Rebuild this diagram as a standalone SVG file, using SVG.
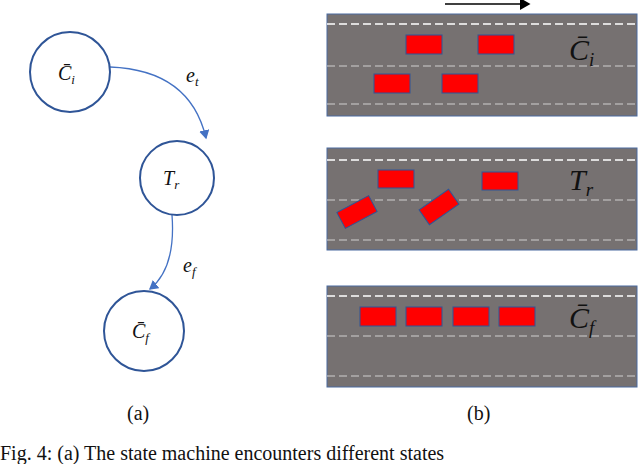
<svg xmlns="http://www.w3.org/2000/svg" width="640" height="464" viewBox="0 0 640 464">
<style>
.n{fill:#fff;stroke:#2f5597;stroke-width:2}
.t{font-family:"Liberation Serif",serif;font-style:italic;font-size:20px;fill:#111}
.s{font-size:13px}
.big{font-size:30px}
.bs{font-size:19px}
.c{font-family:"Liberation Serif",serif;font-size:20px;fill:#111}
.road{fill:#767171;stroke:#4a6ba0;stroke-width:1}
.d1{stroke:#fff;stroke-width:1.6;stroke-dasharray:8 4}
.d2{stroke:#d0d0d0;stroke-width:1.2;stroke-dasharray:8 4}
.car{fill:#f00;stroke:#2f5597;stroke-width:1}
.e{fill:none;stroke:#4472c4;stroke-width:1.3}
</style>
<defs><marker id="a" markerWidth="8" markerHeight="8" refX="6" refY="4" orient="auto"><path d="M0,0 L7,4 L0,8z" fill="#4472c4"/></marker>
<marker id="b" markerWidth="8" markerHeight="8" refX="6" refY="4" orient="auto"><path d="M0,0 L7,4 L0,8z" fill="#000"/></marker></defs>
<g id="edges">
<path class="e" d="M110,67 Q190,70 206,138" marker-end="url(#a)"/>
<path class="e" d="M172,215 Q176,268 150,289" marker-end="url(#a)"/>
<text class="t" x="186" y="82">e<tspan class="s" dy="4">t</tspan></text>
<text class="t" x="183" y="272">e<tspan class="s" dy="4">f</tspan></text>
</g>
<g id="Ci"><circle class="n" cx="70" cy="72" r="40"/><text class="t" x="58" y="80">C̄<tspan class="s" dy="4">i</tspan></text></g>
<g id="Tr"><circle class="n" cx="177" cy="178" r="37"/><text class="t" x="163" y="185">T<tspan class="s" dy="4">r</tspan></text></g>
<g id="Cf"><circle class="n" cx="144" cy="331" r="40"/><text class="t" x="132" y="338">C̄<tspan class="s" dy="4">f</tspan></text></g>
<text class="c" x="127" y="420">(a)</text>
<text class="c" x="467" y="420">(b)</text>
<text class="c" x="0" y="460">Fig. 4: (a) The state machine encounters different states</text>
<line x1="445" y1="4" x2="529" y2="4" stroke="#000" stroke-width="1.5" marker-end="url(#b)"/>
<g id="road1">
<rect class="road" x="327" y="14" width="310" height="102"/>
<line class="d1" x1="327" y1="24" x2="637" y2="24"/><line class="d2" x1="327" y1="66" x2="637" y2="66"/><line class="d2" x1="327" y1="104" x2="637" y2="104"/>
<rect class="car" x="406" y="35" width="36" height="19"/><rect class="car" x="478" y="35" width="36" height="19"/>
<rect class="car" x="374" y="74" width="36" height="19"/><rect class="car" x="442" y="74" width="36" height="19"/>
<text class="t big" x="569" y="60">C̄<tspan class="bs" dy="6">i</tspan></text>
</g>
<g id="road2">
<rect class="road" x="327" y="148" width="310" height="102"/>
<line class="d1" x1="327" y1="160" x2="637" y2="160"/><line class="d2" x1="327" y1="200" x2="637" y2="200"/><line class="d2" x1="327" y1="240" x2="637" y2="240"/>
<rect class="car" x="378" y="170" width="36" height="18"/><rect class="car" x="482" y="172" width="36" height="18"/>
<rect class="car" x="339" y="203" width="36" height="18" transform="rotate(-28 357 212)"/>
<rect class="car" x="421" y="198" width="36" height="18" transform="rotate(-35 439 207)"/>
<text class="t big" x="569" y="190">T<tspan class="bs" dy="6">r</tspan></text>
</g>
<g id="road3">
<rect class="road" x="327" y="286" width="310" height="101"/>
<line class="d1" x1="327" y1="296" x2="637" y2="296"/><line class="d2" x1="327" y1="336" x2="637" y2="336"/><line class="d2" x1="327" y1="376" x2="637" y2="376"/>
<rect class="car" x="360" y="307" width="36" height="19"/><rect class="car" x="406" y="307" width="36" height="19"/>
<rect class="car" x="453" y="307" width="36" height="19"/><rect class="car" x="499" y="307" width="36" height="19"/>
<text class="t big" x="569" y="328">C̄<tspan class="bs" dy="6">f</tspan></text>
</g>
</svg>
